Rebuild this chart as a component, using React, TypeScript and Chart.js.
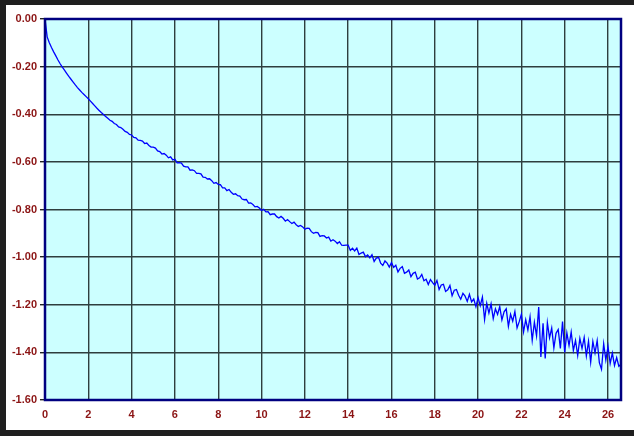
import React, { useEffect, useRef } from "react";
import { Chart, registerables } from "chart.js";

Chart.register(...registerables);

// Sampling step of the trace (x in the same units as the x axis)
const X_STEP = 0.1;

// Values, one row per unit of x (0.0 .. 26.6)
const yValues: number[] = [
  0, -0.075, -0.1, -0.12, -0.138, -0.155, -0.172, -0.188, -0.202, -0.215,
  -0.228, -0.241, -0.253, -0.265, -0.277, -0.288, -0.298, -0.308, -0.317, -0.326,
  -0.335, -0.345, -0.355, -0.365, -0.375, -0.384, -0.393, -0.401, -0.409, -0.417,
  -0.425, -0.43, -0.439, -0.443, -0.453, -0.456, -0.463, -0.472, -0.476, -0.485,
  -0.487, -0.497, -0.499, -0.509, -0.51, -0.513, -0.523, -0.521, -0.531, -0.538,
  -0.538, -0.542, -0.554, -0.557, -0.567, -0.565, -0.572, -0.583, -0.579, -0.592,
  -0.589, -0.604, -0.603, -0.605, -0.618, -0.621, -0.621, -0.635, -0.634, -0.637,
  -0.648, -0.648, -0.65, -0.664, -0.665, -0.672, -0.671, -0.679, -0.69, -0.687,
  -0.695, -0.696, -0.709, -0.709, -0.721, -0.716, -0.728, -0.736, -0.734, -0.742,
  -0.744, -0.756, -0.759, -0.758, -0.773, -0.772, -0.779, -0.789, -0.787, -0.794,
  -0.804, -0.799, -0.81, -0.809, -0.822, -0.819, -0.819, -0.83, -0.836, -0.829,
  -0.837, -0.849, -0.842, -0.851, -0.859, -0.853, -0.864, -0.871, -0.867, -0.873,
  -0.883, -0.878, -0.879, -0.893, -0.9, -0.896, -0.897, -0.913, -0.91, -0.911,
  -0.92, -0.916, -0.933, -0.927, -0.933, -0.943, -0.935, -0.95, -0.951, -0.95,
  -0.95, -0.972, -0.963, -0.974, -0.962, -0.989, -0.983, -0.979, -0.998, -0.991,
  -1.003, -0.99, -1.018, -1.004, -1.0, -1.025, -1.035, -1.016, -1.025, -1.042,
  -1.023, -1.043, -1.034, -1.062, -1.047, -1.04, -1.068, -1.063, -1.054, -1.082,
  -1.068, -1.063, -1.092, -1.087, -1.073, -1.099, -1.093, -1.115, -1.094, -1.107,
  -1.118, -1.098, -1.136, -1.117, -1.114, -1.144, -1.137, -1.119, -1.162, -1.139,
  -1.136, -1.16, -1.177, -1.152, -1.164, -1.186, -1.156, -1.188, -1.176, -1.208,
  -1.17, -1.204, -1.168, -1.262, -1.194, -1.235, -1.196, -1.258, -1.217, -1.241,
  -1.208, -1.264, -1.23, -1.217, -1.291, -1.24, -1.269, -1.228, -1.297, -1.271,
  -1.24, -1.314, -1.263, -1.306, -1.25, -1.349, -1.273, -1.331, -1.21, -1.419,
  -1.278, -1.426, -1.275, -1.339, -1.298, -1.381, -1.32, -1.304, -1.383, -1.271,
  -1.4, -1.318, -1.371, -1.314, -1.392, -1.35, -1.413, -1.341, -1.384, -1.337,
  -1.415, -1.353, -1.441, -1.354, -1.402, -1.35, -1.443, -1.471, -1.364, -1.432,
  -1.375, -1.447, -1.403, -1.455, -1.422, -1.458, -1.45,
];

const xAxisMin = 0;
const xAxisMax = 26.6;
const xTickStep = 2;
const yAxisMin = -1.6;
const yAxisMax = 0;
const yTickStep = 0.2;

const LABEL_COLOR = "#8b1414";
const GRID_COLOR = "#2e3e3e";
const PLOT_BG = "#ccffff";
const LINE_COLOR = "#0000ff";
const FRAME_COLOR = "#1f1f1f";
const PLOT_BORDER = "#000080";

const framePlugin = {
  id: "framePlugin",
  beforeDraw(chart: any) {
    const { ctx, width, height, chartArea } = chart;
    ctx.save();
    ctx.fillStyle = "#ffffff";
    ctx.fillRect(0, 0, width, height);
    ctx.fillStyle = FRAME_COLOR;
    ctx.fillRect(0, 0, 6, height);
    ctx.fillRect(0, 0, width, 5);
    ctx.fillRect(0, height - 6, width, 6);
    ctx.fillStyle = PLOT_BG;
    ctx.fillRect(
      chartArea.left,
      chartArea.top,
      chartArea.right - chartArea.left,
      chartArea.bottom - chartArea.top
    );
    ctx.restore();
  },
  afterDraw(chart: any) {
    const { ctx, chartArea } = chart;
    ctx.save();
    ctx.strokeStyle = PLOT_BORDER;
    ctx.lineWidth = 2.5;
    ctx.strokeRect(
      chartArea.left,
      chartArea.top,
      chartArea.right - chartArea.left,
      chartArea.bottom - chartArea.top
    );
    ctx.restore();
  },
};

export default function App() {
  const canvasRef = useRef<HTMLCanvasElement | null>(null);

  useEffect(() => {
    if (!canvasRef.current) return;
    const points = yValues.map((y, i) => ({ x: +(i * X_STEP).toFixed(1), y }));
    const chart = new Chart(canvasRef.current, {
      type: "line",
      data: {
        datasets: [
          {
            data: points,
            borderColor: LINE_COLOR,
            borderWidth: 1.3,
            pointRadius: 0,
            tension: 0,
            fill: false,
          },
        ],
      },
      options: {
        animation: false,
        responsive: false,
        devicePixelRatio: 1,
        parsing: false,
        normalized: true,
        layout: { padding: { left: 8, top: 19, right: 13, bottom: 14 } },
        plugins: {
          legend: { display: false },
          tooltip: { enabled: false },
        },
        scales: {
          x: {
            type: "linear",
            min: xAxisMin,
            max: xAxisMax,
            border: { display: false },
            grid: { color: GRID_COLOR, lineWidth: 1.4, drawTicks: false },
            ticks: {
              stepSize: xTickStep,
              includeBounds: false,
              autoSkip: false,
              maxRotation: 0,
              padding: 8,
              color: LABEL_COLOR,
              font: { family: "Liberation Sans, Arial, sans-serif", size: 11, weight: "bold" },
              callback: (v: any) => String(Math.round(Number(v))),
            },
            afterBuildTicks: (scale: any) => {
              scale.ticks = scale.ticks.filter(
                (t: any) => Math.abs(t.value / xTickStep - Math.round(t.value / xTickStep)) < 1e-6
              );
            },
            afterFit: (scale: any) => {
              scale.height = 22;
            },
          },
          y: {
            type: "linear",
            min: yAxisMin,
            max: yAxisMax,
            border: { display: false },
            grid: { color: GRID_COLOR, lineWidth: 1.4, drawTicks: true, tickLength: 5, tickColor: "#222" },
            ticks: {
              stepSize: yTickStep,
              padding: 3,
              color: LABEL_COLOR,
              font: { family: "Liberation Sans, Arial, sans-serif", size: 11, weight: "bold" },
              callback: (v: any) => Number(v).toFixed(2),
            },
            afterFit: (scale: any) => {
              scale.width = 37;
            },
          },
        },
      },
      plugins: [framePlugin],
    } as any);
    return () => chart.destroy();
  }, []);

  return (
    <div style={{ position: "fixed", left: 0, top: 0, width: 634, height: 436 }}>
      <canvas ref={canvasRef} width={634} height={436} style={{ display: "block" }} />
    </div>
  );
}
